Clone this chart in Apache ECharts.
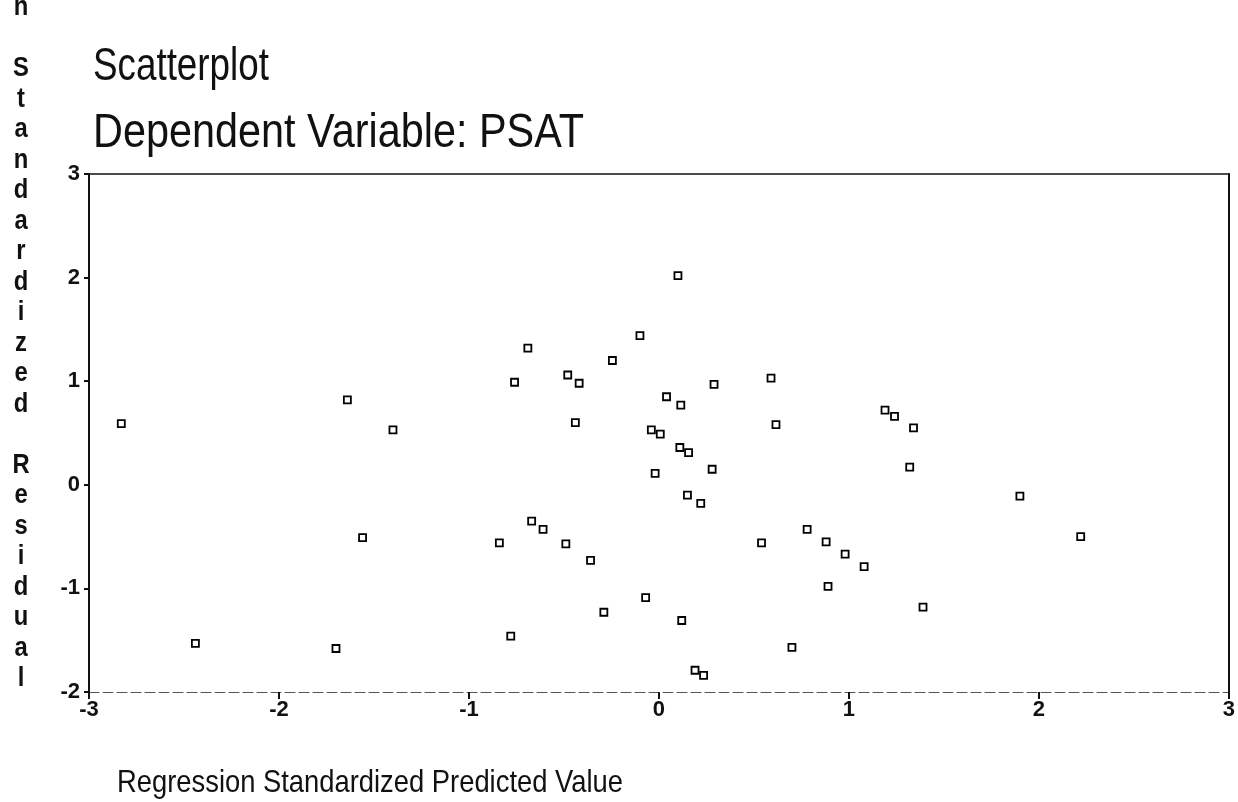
<!DOCTYPE html>
<html>
<head>
<meta charset="utf-8">
<script src="https://cdn.jsdelivr.net/npm/echarts@6/dist/echarts.min.js"></script>
<style>
html,body{margin:0;padding:0;background:#fff;}
#chart{width:1238px;height:802px;}
</style>
</head>
<body>
<div id="chart"></div>
<script>
// Data
const predicted = [-2.83, -2.44, -1.70, -1.64, -1.56, -1.40,
  0.10, -0.10, -0.69, -0.245, -0.48, -0.42, -0.76, 0.29, 0.59, 0.04, 0.115, -0.44, 0.616, -0.04,
  0.007, 0.11, 0.156, 0.28, -0.02, 0.15, 0.22, -0.67, -0.61, -0.84, -0.49, -0.36, 0.54, 0.78,
  -0.07, -0.29, 0.12, -0.78, 0.70, 0.19, 0.235,
  1.19, 1.24, 1.34, 1.32, 1.90, 0.88, 0.98, 1.08, 0.89, 1.39, 2.22];
const residual = [0.59, -1.53, -1.58, 0.82, -0.51, 0.53,
  2.02, 1.44, 1.32, 1.20, 1.06, 0.98, 0.99, 0.97, 1.03, 0.85, 0.77, 0.60, 0.58, 0.53,
  0.49, 0.36, 0.31, 0.15, 0.11, -0.10, -0.18, -0.35, -0.43, -0.56, -0.57, -0.73, -0.56, -0.43,
  -1.09, -1.23, -1.31, -1.46, -1.57, -1.79, -1.84,
  0.72, 0.66, 0.55, 0.17, -0.11, -0.55, -0.67, -0.79, -0.98, -1.18, -0.50];
const titleText = 'Scatterplot';
const subtitleText = 'Dependent Variable: PSAT';
const xAxisTitle = 'Regression Standardized Predicted Value';
const yAxisTitle = 'Regression Standardized Residual';

const points = predicted.map((x, i) => [x, residual[i]]);
const fam = '"Liberation Sans", Arial, sans-serif';
const stacked = yAxisTitle.split('').join('\n');

const chart = echarts.init(document.getElementById('chart'), null, {renderer: 'canvas'});
chart.setOption({
  backgroundColor: '#ffffff',
  animation: false,
  grid: {left: 89, right: 3, top: 174, bottom: 110, containLabel: false},
  graphic: [
    {type: 'text', x: 93, y: 67, scaleX: 0.80, style: {text: titleText, font: '46px ' + fam, fill: '#111', verticalAlign: 'middle'}},
    {type: 'text', x: 93, y: 133, scaleX: 0.845, style: {text: subtitleText, font: '49px ' + fam, fill: '#111', verticalAlign: 'middle'}},
    {type: 'text', x: 117, y: 783, scaleX: 0.855, style: {text: xAxisTitle, font: '32px ' + fam, fill: '#111', verticalAlign: 'middle'}},
    {type: 'text', x: 21, y: 694, scaleX: 0.85, style: {text: stacked, font: 'bold 28px ' + fam, fill: '#111',
      lineHeight: 30.5, align: 'center', verticalAlign: 'bottom'}}
  ],
  xAxis: [{
    type: 'value', min: -3, max: 3, interval: 1,
    splitLine: {show: false},
    axisLine: {show: true, onZero: false, lineStyle: {color: '#555', width: 1, type: [10, 4]}},
    axisTick: {show: true, inside: false, length: 7, lineStyle: {color: '#111', width: 2}},
    axisLabel: {color: '#111', fontFamily: fam, fontWeight: 'bold', fontSize: 22, margin: 7,
      showMinLabel: true, showMaxLabel: true}
  }, {
    type: 'value', min: -3, max: 3, position: 'top',
    splitLine: {show: false}, axisTick: {show: false}, axisLabel: {show: false},
    axisLine: {show: true, onZero: false, lineStyle: {color: '#111', width: 1.5}}
  }],
  yAxis: [{
    type: 'value', min: -2, max: 3, interval: 1,
    splitLine: {show: false},
    axisLine: {show: true, onZero: false, lineStyle: {color: '#111', width: 2}},
    axisTick: {show: true, length: 5, lineStyle: {color: '#111', width: 2}},
    axisLabel: {color: '#111', fontFamily: fam, fontWeight: 'bold', fontSize: 22, margin: 9}
  }, {
    type: 'value', min: -2, max: 3, position: 'right',
    splitLine: {show: false}, axisTick: {show: false}, axisLabel: {show: false},
    axisLine: {show: true, onZero: false, lineStyle: {color: '#111', width: 2}}
  }],
  series: [{
    type: 'scatter',
    data: points,
    symbol: 'rect',
    symbolSize: 7,
    itemStyle: {color: '#ffffff', borderColor: '#000', borderWidth: 1.8, opacity: 1}
  }]
});
</script>
</body>
</html>
